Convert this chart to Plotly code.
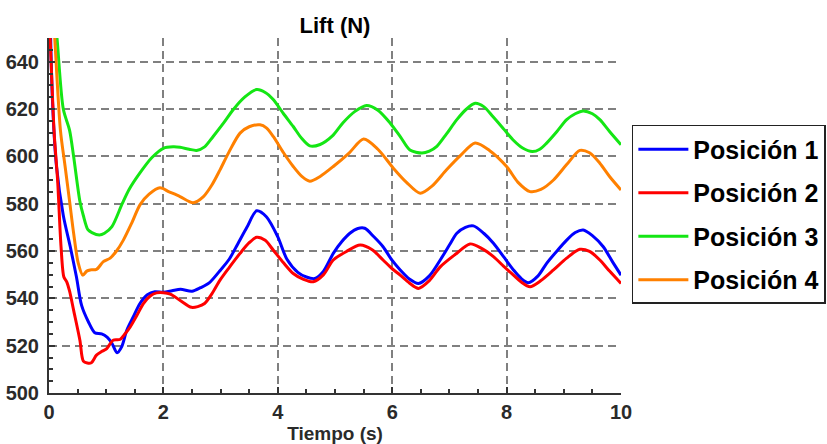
import plotly.graph_objects as go

# Lift force time histories for four positions
t_pos1 = [0, 0.06, 0.13, 0.25, 0.37, 0.48, 0.57, 0.69, 0.8, 0.92, 1.02, 1.1, 1.19, 1.27,
          1.36, 1.47, 1.59, 1.72, 1.85, 2.0, 2.15, 2.3, 2.5, 2.65, 2.8, 3.0, 3.15, 3.3,
          3.46, 3.63, 3.8, 4.0, 4.16, 4.35, 4.5, 4.65, 4.8, 4.97, 5.12, 5.26, 5.4, 5.52,
          5.68, 5.84, 6.0, 6.14, 6.3, 6.46, 6.65, 6.84, 7.0, 7.13, 7.28, 7.42, 7.6, 7.77,
          7.95, 8.12, 8.25, 8.38, 8.55, 8.7, 8.88, 9.05, 9.2, 9.34, 9.5, 9.69, 9.85, 10.0]
lift_pos1 = [682, 624, 596, 575, 562, 549, 537, 530, 525.5, 525, 523.5, 521, 517, 519.5,
             526.5, 532, 537.8, 541.5, 542.8, 542.6, 543.2, 543.8, 543, 544.5, 546.5, 552,
             556.5, 563, 570, 577, 574.5, 566, 556.5, 551, 549, 548.4, 551.5, 559, 564,
             567.5, 569.5, 569.6, 566, 561.8, 556, 552, 548.2, 546.3, 549.5, 556.2, 562.5,
             567.5, 570, 570.6, 567.5, 563.3, 557.5, 552, 548.5, 546.6, 549.5, 554.8, 560,
             564.6, 567.8, 568.9, 566.5, 561.8, 555.5, 549.8]

t_pos2 = [0, 0.02, 0.09, 0.15, 0.21, 0.26, 0.31, 0.36, 0.43, 0.54, 0.6, 0.67, 0.74, 0.83,
          0.92, 1.01, 1.12, 1.24, 1.33, 1.42, 1.53, 1.65, 1.77, 1.88, 2.0, 2.12, 2.3, 2.49,
          2.6, 2.72, 2.85, 2.99, 3.15, 3.34, 3.5, 3.63, 3.78, 3.92, 4.1, 4.27, 4.45, 4.62,
          4.8, 4.97, 5.2, 5.44, 5.65, 5.84, 6.0, 6.14, 6.3, 6.46, 6.65, 6.84, 7.1, 7.36,
          7.57, 7.77, 7.95, 8.12, 8.25, 8.41, 8.6, 8.82, 9.05, 9.28, 9.45, 9.63, 9.8, 10.0]
lift_pos2 = [662, 650, 610, 590, 562, 549, 547, 543, 535, 522.3, 513.5, 512.7, 512.8, 516,
             517.5, 518.8, 522.3, 522.6, 525, 527.9, 532.5, 537.8, 541, 542.3, 542.4, 541.8,
             539, 536.2, 536.5, 537.8, 542, 547.7, 553, 559, 563.5, 565.8, 564.5, 560.4, 555,
             550.5, 548, 547, 550, 556.2, 559.8, 562.5, 560.5, 556.2, 552.5, 549.8, 546.5,
             544.2, 547.5, 553.3, 558.5, 563, 561, 557.6, 553.5, 549.8, 547, 544.9, 547.5,
             552, 557, 560.7, 559.8, 556.2, 551.5, 546.3]

t_pos3 = [0, 0.14, 0.25, 0.36, 0.43, 0.54, 0.6, 0.68, 0.75, 0.88, 0.97, 1.1, 1.28, 1.4,
          1.59, 1.8, 2.0, 2.17, 2.29, 2.45, 2.58, 2.72, 2.87, 3.05, 3.22, 3.42, 3.63, 3.78,
          3.92, 4.1, 4.27, 4.42, 4.56, 4.74, 4.95, 5.14, 5.35, 5.55, 5.75, 5.96, 6.15, 6.31,
          6.52, 6.65, 6.78, 6.95, 7.13, 7.3, 7.45, 7.6, 7.76, 7.95, 8.11, 8.28, 8.45, 8.58,
          8.7, 8.88, 9.05, 9.2, 9.34, 9.5, 9.63, 9.8, 10.0]
lift_pos3 = [688, 650, 620, 611, 600, 581, 575, 569, 567.8, 566.8, 567.5, 570.3, 580, 586,
             593, 599.5, 603.4, 604, 603.8, 603, 602.5, 604, 608.4, 614, 619.7, 625, 628.2,
             627, 624, 618, 612.6, 607.5, 604.4, 605, 608.5, 614.2, 619, 621.5, 619.5, 614.2,
             608, 602.7, 601.4, 602.2, 604.2, 609.5, 615.5, 620, 622.4, 621, 616.8, 611.5,
             607, 603.5, 602, 603, 605.6, 610.5, 615.5, 618, 619.2, 618, 615.5, 610.5, 604.9]

t_pos4 = [0, 0.1, 0.2, 0.28, 0.36, 0.43, 0.51, 0.59, 0.66, 0.72, 0.83, 0.95, 1.07, 1.18,
          1.3, 1.45, 1.59, 1.75, 1.94, 2.1, 2.29, 2.52, 2.7, 2.85, 2.99, 3.15, 3.34, 3.5,
          3.69, 3.8, 3.92, 4.1, 4.27, 4.42, 4.56, 4.74, 4.97, 5.25, 5.5, 5.75, 6.02, 6.25,
          6.49, 6.7, 6.95, 7.2, 7.45, 7.7, 8.0, 8.2, 8.41, 8.6, 8.82, 9.05, 9.28, 9.45,
          9.63, 9.8, 10.0]
lift_pos4 = [689, 650, 611, 596, 581, 567.6, 555, 549.8, 551.5, 552, 552.2, 555.5, 557, 560,
             564.6, 572, 579.5, 584, 586.7, 585, 583, 580.4, 583, 588, 594.3, 602, 609.8,
             612.5, 613.3, 612, 608.4, 601.5, 595.7, 591.5, 589.5, 591.5, 595.7, 601.5,
             607.3, 603, 595, 589, 584.4, 587.5, 594.3, 600.5, 605.6, 602.5, 595.7, 589,
             585.1, 586, 590, 596.5, 602.5, 601.5, 597.1, 591.5, 585.8]

series = [
    ("Posición 1", t_pos1, lift_pos1, "#0000ff"),
    ("Posición 2", t_pos2, lift_pos2, "#ff0000"),
    ("Posición 3", t_pos3, lift_pos3, "#14e614"),
    ("Posición 4", t_pos4, lift_pos4, "#ff8000"),
]

FONT = "Liberation Sans, Arial, sans-serif"
TXT = "#2a2a2a"

fig = go.Figure()
for name, t, y, color in series:
    fig.add_trace(go.Scatter(
        x=t, y=y, name=name, mode="lines", legendgroup=name,
        line=dict(color=color, width=3, shape="spline", smoothing=0.8),
    ))

axis_common = dict(
    showgrid=True, gridcolor="#808080", gridwidth=1.8, griddash="8px,5px",
    showline=True, linecolor="#333333", linewidth=2,
    ticks="inside", ticklen=6, tickwidth=2, tickcolor="#333333",
    tickfont=dict(family=FONT, size=20, color=TXT, weight="bold"),
    zeroline=False, automargin=False,
)

fig.update_xaxes(
    range=[0, 10], tick0=0, dtick=2,
    minor=dict(dtick=0.5, ticks="inside", ticklen=4, tickwidth=1.5,
               tickcolor="#333333", showgrid=False),
    ticklabelstandoff=0,
    title=dict(text="Tiempo (s)", standoff=9,
               font=dict(family=FONT, size=19, color=TXT, weight="bold")),
    **axis_common,
)
fig.update_yaxes(
    range=[500, 650], tick0=500, dtick=20,
    minor=dict(dtick=5, ticks="inside", ticklen=4, tickwidth=1.5,
               tickcolor="#333333", showgrid=False),
    ticklabelstandoff=4,
    **axis_common,
)

fig.update_layout(
    width=827, height=444,
    margin=dict(l=49, r=206, t=38, b=51, autoexpand=False),
    paper_bgcolor="white", plot_bgcolor="white",
    title=dict(text="Lift (N)", x=0.5, xref="paper", xanchor="center",
               y=1 - 25 / 444, yref="container", yanchor="middle",
               font=dict(family=FONT, size=22, color="black", weight="bold")),
    legend=dict(
        x=1.019, y=0.755, xanchor="left", yanchor="top",
        bgcolor="white", bordercolor="#222222", borderwidth=1.5,
        font=dict(family=FONT, size=25, color="black", weight="bold"),
        tracegroupgap=8, itemwidth=50,
    ),
)

fig.write_html("out.html")
